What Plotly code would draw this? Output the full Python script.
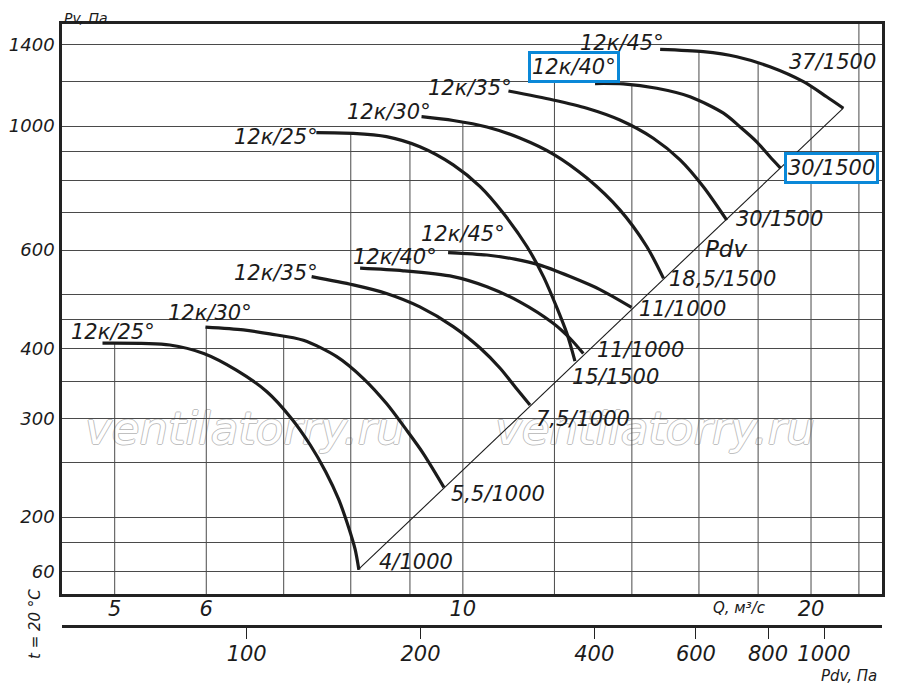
import numpy as np
import plotly.graph_objects as go

# ---------------- data ----------------
# 1000 rpm family
q_25_1000 = [4.88, 5.58, 5.97, 6.37, 6.77, 7.10, 7.38, 7.61, 7.81, 7.97, 8.07, 8.13]
pv_25_1000 = [409, 406, 392, 366, 335, 301, 269, 241, 215, 191, 175, 161]
q_30_1000 = [5.99, 6.46, 6.81, 7.28, 7.78, 8.20, 8.59, 8.94, 9.24, 9.63]
pv_30_1000 = [437, 432, 425, 414, 387, 354, 319, 286, 260, 226]
q_35_1000 = [7.40, 8.04, 8.59, 9.18, 9.81, 10.35, 10.77, 11.13, 11.43]
pv_35_1000 = [538, 520, 502, 475, 438, 401, 369, 339, 317]
q_40_1000 = [8.15, 8.88, 9.81, 10.49, 11.20, 11.97, 12.38, 12.71]
pv_40_1000 = [557, 551, 538, 516, 485, 444, 417, 392]
q_45_1000 = [9.71, 10.49, 11.09, 11.66, 12.38, 13.14, 13.99]
pv_45_1000 = [594, 588, 578, 564, 538, 510, 474]

# 1500 rpm family
q_25_1500 = [7.47, 8.04, 8.59, 9.18, 9.81, 10.35, 10.84, 11.36, 11.74, 12.05, 12.30, 12.50]
pv_25_1500 = [973, 970, 957, 918, 852, 779, 698, 609, 538, 475, 426, 380]
q_30_1500 = [9.21, 9.81, 10.49, 11.20, 11.97, 12.80, 13.67, 14.42, 14.91]
pv_30_1500 = [1039, 1023, 996, 952, 891, 807, 708, 609, 534]
q_35_1500 = [10.95, 11.97, 12.80, 13.67, 14.61, 15.41, 16.14, 16.91]
pv_35_1500 = [1155, 1113, 1076, 1025, 951, 870, 779, 679]
q_40_1500 = [13.01, 13.76, 14.71, 15.72, 16.80, 17.36, 17.95, 18.43, 18.82]
pv_40_1500 = [1191, 1189, 1168, 1128, 1054, 997, 937, 881, 841]
q_45_1500 = [14.81, 16.14, 17.25, 18.43, 19.70, 20.63, 21.33]
pv_45_1500 = [1371, 1358, 1330, 1276, 1200, 1128, 1076]

# dynamic-pressure line (Pdv = Pv)
pdv_line = [156, 1080]
pv_line = [161, 1076]

# grid / ticks
pv_grid = [160, 180, 200, 250, 300, 350, 400, 450, 500, 600, 700, 800, 900, 1000, 1200, 1400]
pv_grid_text = ["60", "", "200", "", "300", "", "400", "", "", "600", "", "", "", "1000", "", "1400"]
q_grid = [5, 6, 7, 8, 9, 10, 12, 14, 16, 18, 20, 22]
q_grid_top = [408, 437, 420, 970, 930, 1015, 1200, 1184, 1359, 1296, 1177, 1600]
q_ticks = [5, 6, 10, 20]
q_tick_text = ["5", "6", "10", "20"]
pdv_ticks = [100, 200, 400, 600, 800, 1000]

curves = [
    (q_25_1000, pv_25_1000), (q_30_1000, pv_30_1000), (q_35_1000, pv_35_1000),
    (q_40_1000, pv_40_1000), (q_45_1000, pv_45_1000),
    (q_25_1500, pv_25_1500), (q_30_1500, pv_30_1500), (q_35_1500, pv_35_1500),
    (q_40_1500, pv_40_1500), (q_45_1500, pv_45_1500),
]

# ---------------- layout constants (page pixels) ----------------
OX, OY = 8, 8              # default page body margin
PL, PR, PT = 62, 882, 24   # plot frame on the page
PBOT = 594                 # bottom of the Q-axis frame
PAX2 = 626                 # Pdv axis line
W, H = 900 - OX, 688 - OY
ML, MT = PL - OX, PT - OY
MR = W - (PR - OX)
MB = H - (PAX2 - OY)
XR = [0.65341, 1.36239]
X2R = [1.68006, 3.10047]
YR = [2.16339, 3.18234]
FONT = "DejaVu Sans"
INK = "#1b1b1b"
BLUE = "#0a88d8"
WM = "#c0c0c0"

pw = PR - PL
ph = PAX2 - PT


def pp(px, py):
    return dict(x=(px - PL) / pw, y=(PAX2 - py) / ph, xref="paper", yref="paper")


fig = go.Figure()

# vertical grid lines (start at the curves, as in the drawing)
ymin = 10 ** YR[0]
ymax = 10 ** YR[1]
gx, gy = [], []
for q, top in zip(q_grid, q_grid_top):
    gx += [q, q, None]
    gy += [min(top, ymax), ymin, None]
fig.add_trace(go.Scatter(x=gx, y=gy, mode="lines", line=dict(color="#4a4a4a", width=1),
                         hoverinfo="skip", showlegend=False))

# Pdv line on the Pdv axis
fig.add_trace(go.Scatter(x=pdv_line, y=pv_line, xaxis="x2", yaxis="y", mode="lines",
                         line=dict(color=INK, width=1.1), hoverinfo="skip", showlegend=False))

for q, pv in curves:
    fig.add_trace(go.Scatter(x=q, y=pv, mode="lines",
                             line=dict(color=INK, width=3.2, shape="spline", smoothing=0.8),
                             showlegend=False))

ann = []


def label(text, px, py, size=21, **kw):
    d = pp(px, py)
    d.update(text=text, showarrow=False, xanchor="center", yanchor="middle",
             font=dict(family=FONT, size=size, color=INK, style="italic"))
    d.update(kw)
    ann.append(d)


# watermarks: outlined text drawn beneath the grid and the curves
shadow = "1px 0 0 {c}, -1px 0 0 {c}, 0 1px 0 {c}, 0 -1px 0 {c}".format(c=WM)
for cx in (245, 655):
    x0 = (cx - 170 - PL) / pw
    x1 = (cx + 170 - PL) / pw
    y0 = (PBOT - 450) / (PBOT - PT)
    y1 = (PBOT - 400) / (PBOT - PT)
    try:
        fig.add_shape(type="rect", xref="x domain", yref="y domain",
                      x0=x0, x1=x1, y0=y0, y1=y1, layer="below",
                      line=dict(width=0), fillcolor="rgba(0,0,0,0)",
                      label=dict(text="ventilatorry.ru", textposition="middle center",
                                 padding=0,
                                 font=dict(family=FONT, size=45, color="white",
                                           style="italic", shadow=shadow)))
    except Exception:
        d = pp(cx, 425)
        d.update(text="ventilatorry.ru", showarrow=False, xanchor="center", yanchor="middle",
                 font=dict(family=FONT, size=45, color="rgba(200,200,200,0.45)"))
        ann.append(d)

# curve start labels
label("12к/25°", 113, 332)
label("12к/30°", 210, 313)
label("12к/35°", 276, 273)
label("12к/40°", 395, 257)
label("12к/45°", 463, 234)
label("12к/25°", 276, 137)
label("12к/30°", 389, 112)
label("12к/35°", 470, 88)
label("12к/45°", 622, 43)
label("12к/40°", 574, 67, bordercolor=BLUE, borderwidth=3, borderpad=1, bgcolor="white")

# curve end labels
label("4/1000", 416, 562)
label("5,5/1000", 498, 494)
label("7,5/1000", 583, 419)
label("11/1000", 640, 350)
label("15/1500", 615, 377)
label("11/1000", 682, 309)
label("18,5/1500", 722, 279)
label("30/1500", 779, 219)
label("37/1500", 832, 62)
label("30/1500", 831, 168, bordercolor=BLUE, borderwidth=3, borderpad=1, bgcolor="white")
label("Pdv", 726, 249, size=23)

# axis titles
label("Pv, Па", 86, OY, size=14, yanchor="top")
label("Q, м³/с", 739, 608, size=15)
label("Pdv, Па", 849, 676, size=15)
label("t = 20 °C", 35, 624, size=15, textangle=-90)

tickfont = dict(family=FONT, size=21, color=INK, style="italic")

fig.update_layout(
    width=W, height=H,
    margin=dict(l=ML, r=MR, t=MT, b=MB, pad=0),
    paper_bgcolor="white", plot_bgcolor="white",
    showlegend=False,
    annotations=ann,
    xaxis=dict(type="log", range=XR, showgrid=False, zeroline=False,
               tickvals=q_ticks, ticktext=q_tick_text, ticks="",
               tickfont=tickfont, showline=True, linewidth=2.5, linecolor="#222",
               mirror=True, automargin=False, anchor="y", ticklabelstandoff=-6),
    xaxis2=dict(type="log", range=X2R, overlaying="x", anchor="free", position=0,
                side="bottom", showgrid=False, zeroline=False,
                tickvals=pdv_ticks, ticktext=[str(v) for v in pdv_ticks],
                ticks="outside", ticklen=11, tickwidth=1, tickcolor="#222",
                tickfont=tickfont, showline=True, linewidth=2.5, linecolor="#222",
                automargin=False, ticklabelstandoff=-3),
    yaxis=dict(type="log", range=YR, domain=[(PAX2 - PBOT) / ph, 1],
               tickvals=pv_grid, ticktext=pv_grid_text, ticks="",
               showgrid=True, gridcolor="#4a4a4a", gridwidth=1, zeroline=False,
               tickfont=dict(family=FONT, size=18, color=INK, style="italic"),
               showline=True, linewidth=2.5, linecolor="#222", mirror=True,
               automargin=False, ticklabelstandoff=1),
)

fig.write_html("out.html")
